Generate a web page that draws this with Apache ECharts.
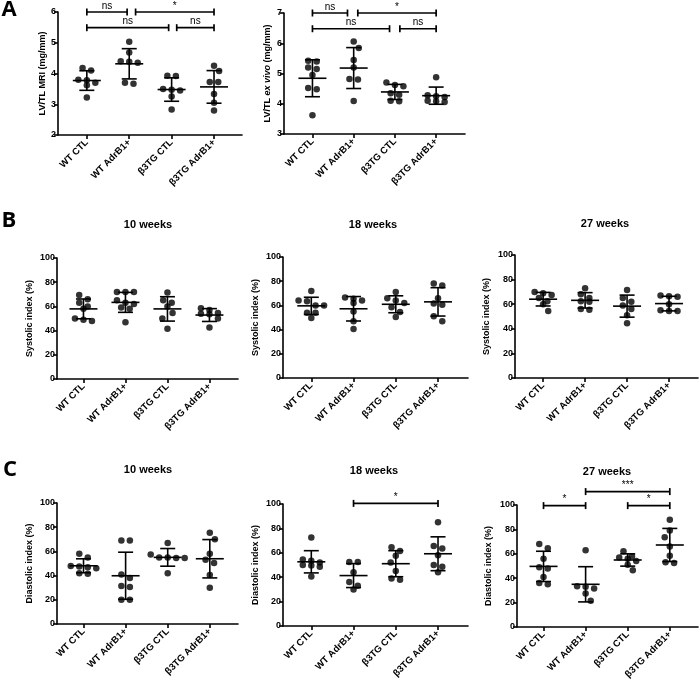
<!DOCTYPE html>
<html><head><meta charset="utf-8">
<script src="https://cdn.jsdelivr.net/npm/echarts@6/dist/echarts.min.js"></script>
<style>html,body{margin:0;padding:0;background:#fff}#c{width:700px;height:682px}</style>
</head><body><div id="c"></div>
<script>
const categories = ['WT CTL', 'WT AdrB1+', 'β3TG CTL', 'β3TG AdrB1+'];

const mriValues = [
  [4.18, 4.10, 3.80, 3.78, 3.70, 3.62, 3.22],
  [5.03, 4.68, 4.40, 4.38, 4.35, 3.70, 3.67],
  [3.93, 3.92, 3.50, 3.47, 3.45, 3.25, 2.83],
  [4.25, 4.08, 3.72, 3.72, 3.33, 3.05, 2.80]
];
const exVivoValues = [
  [5.42, 5.40, 5.20, 5.15, 4.95, 4.52, 4.48, 3.62],
  [6.06, 5.84, 5.45, 5.20, 4.82, 4.80, 4.09],
  [4.70, 4.62, 4.58, 4.35, 4.30, 4.10, 4.08],
  [4.88, 4.28, 4.25, 4.22, 4.10, 4.08, 4.06]
];
const systolic10 = [
  [69.5, 66, 63, 60, 58, 50, 49, 48],
  [72, 72, 72, 65, 63, 62, 59, 58, 47],
  [71.5, 65, 63, 60, 54.5, 50, 41.5],
  [58.5, 57, 54.5, 54, 53.5, 50, 42.5]
];
const systolic18 = [
  [72, 64, 63.5, 60, 60, 54, 54, 49.5],
  [66.5, 65.5, 64, 62, 55, 47, 40.5],
  [71, 66, 64, 62, 58.5, 54.5, 50.5],
  [78, 76.5, 66, 61.5, 60.5, 51, 47]
];
const systolic27 = [
  [70, 69, 67.5, 65, 62.5, 60, 54.5],
  [73, 68, 65, 62.5, 62, 56, 55.5],
  [71.5, 65, 62, 59, 56, 51, 44.5],
  [67, 66.5, 66, 60, 55, 54.5, 54.5]
];
const diastolic10 = [
  [58, 55, 48, 47.5, 47, 46, 42, 41.5],
  [69, 69, 41, 38, 31.5, 30.5, 20, 20],
  [67, 57.5, 55, 55, 54.5, 54.5, 42],
  [75.5, 70, 58, 53, 50.5, 40.5, 30]
];
const diastolic18 = [
  [72.5, 54.5, 53.5, 52, 50, 49.5, 48.5, 40.5],
  [52.5, 52.5, 44, 36, 33, 30],
  [64.5, 61.5, 57.5, 52, 45, 39, 38],
  [85, 65.5, 63.5, 58, 50, 48.5, 44]
];
const diastolic27 = [
  [68, 64.5, 56, 49, 48, 41, 36, 35],
  [63, 33.5, 33, 31.5, 27.5, 21.5],
  [62, 58, 57, 56, 54, 51, 46.5],
  [88, 79, 73.5, 66, 58.5, 53, 52.5]
];

// comparisons: [from category, to category, y value, label]
const mriComparisons = [[0, 0.95, 6.0, 'ns'], [1.15, 3, 6.0, '*'], [0, 1.93, 5.49, 'ns'], [2.12, 3, 5.49, 'ns']];
const exVivoComparisons = [[0, 0.85, 7.0, 'ns'], [1.1, 3, 7.0, '*'], [0, 1.87, 6.48, 'ns'], [2.12, 3, 6.48, 'ns']];
const diastolic18Comparisons = [[1, 3, 100.5, '*']];
const diastolic27Comparisons = [[0, 1, 99.5, '*'], [1, 3, 111, '***'], [2, 3, 99.5, '*']];

const mriTicks = [2, 6, 1];
const exVivoTicks = [3, 7, 1];
const indexTicks = [0, 100, 20];

const FONT = 'Liberation Sans, Arial, sans-serif';

const panels = [
  {values: mriValues, comps: mriComparisons, rect: {left: 58, top: 12, width: 184, height: 123}, xr: [-0.68, 3.66], yt: mriTicks, name: 'LV/TL MRI (mg/mm)', gap: 11},
  {values: exVivoValues, comps: exVivoComparisons, rect: {left: 284, top: 13, width: 181, height: 121}, xr: [-0.69, 3.70], yt: exVivoTicks, name: '{b|LV/TL }{i|ex vivo}{b| (mg/mm)}', gap: 12, rich: true},
  {values: systolic10, comps: [], rect: {left: 57, top: 258, width: 181, height: 121}, xr: [-0.63, 3.68], yt: indexTicks, name: 'Systolic index (%)', gap: 23},
  {values: systolic18, comps: [], rect: {left: 283, top: 257, width: 185, height: 121}, xr: [-0.67, 3.71], yt: indexTicks, name: 'Systolic index (%)', gap: 23},
  {values: systolic27, comps: [], rect: {left: 515, top: 255, width: 183, height: 123}, xr: [-0.67, 3.69], yt: indexTicks, name: 'Systolic index (%)', gap: 24},
  {values: diastolic10, comps: [], rect: {left: 57, top: 503, width: 181, height: 121}, xr: [-0.63, 3.67], yt: indexTicks, name: 'Diastolic index (%)', gap: 23},
  {values: diastolic18, comps: diastolic18Comparisons, rect: {left: 283, top: 504, width: 185, height: 122}, xr: [-0.67, 3.71], yt: indexTicks, name: 'Diastolic index (%)', gap: 23},
  {values: diastolic27, comps: diastolic27Comparisons, rect: {left: 517, top: 505, width: 181, height: 122}, xr: [-0.63, 3.67], yt: indexTicks, name: 'Diastolic index (%)', gap: 24}
];

function mean(a) { return a.reduce((s, v) => s + v, 0) / a.length; }
function sd(a) { const m = mean(a); return Math.sqrt(a.reduce((s, v) => s + (v - m) * (v - m), 0) / (a.length - 1)); }

// simple beeswarm: points close in y share a row and are spread symmetrically
function swarm(vals, pxPerY, rowPx, spacingPx) {
  const sorted = vals.slice().sort((a, b) => b - a);
  const rows = []; let cur = null;
  sorted.forEach(v => {
    if (cur && (cur.top - v) * pxPerY < rowPx) cur.items.push(v);
    else { cur = {top: v, items: [v]}; rows.push(cur); }
  });
  const out = [];
  rows.forEach((r, ri) => {
    const n = r.items.length;
    const shift = (n === 1 && ri > 0 && rows[ri - 1].items.length === 1 &&
      (rows[ri - 1].top - r.top) * pxPerY < rowPx * 1.5) ? spacingPx * 0.6 * (ri % 2 ? 1 : -1) : 0;
    r.items.forEach((v, k) => out.push({v, off: (k - (n - 1) / 2) * spacingPx + shift}));
  });
  return out;
}

const grid = [], xAxis = [], yAxis = [], series = [];
const axisLineStyle = {color: '#000', width: 1.6};

panels.forEach((p, i) => {
  grid.push(Object.assign({containLabel: false, outerBoundsMode: 'none'}, p.rect));
  const pxPerX = p.rect.width / (p.xr[1] - p.xr[0]);
  const pxPerY = p.rect.height / (p.yt[1] - p.yt[0]);
  xAxis.push({
    type: 'value', gridIndex: i, min: p.xr[0], max: p.xr[1],
    splitLine: {show: false},
    axisLine: {show: true, onZero: false, lineStyle: axisLineStyle},
    axisTick: {show: true, length: 4, customValues: [0, 1, 2, 3], lineStyle: axisLineStyle},
    axisLabel: {customValues: [0, 1, 2, 3], rotate: 45, margin: 6, fontSize: 9.5, fontWeight: 'bold', color: '#000', fontFamily: FONT,
      formatter: v => categories[Math.round(v)] || ''}
  });
  const nameStyle = {fontSize: 9, fontWeight: 'bold', color: '#000', fontFamily: FONT};
  if (p.rich) nameStyle.rich = {
    b: {fontSize: 9, fontWeight: 'bold', color: '#000', fontFamily: FONT},
    i: {fontSize: 9, fontWeight: 'bold', fontStyle: 'italic', color: '#000', fontFamily: FONT}
  };
  yAxis.push({
    type: 'value', gridIndex: i, min: p.yt[0], max: p.yt[1], interval: p.yt[2],
    splitLine: {show: false},
    axisLine: {show: true, onZero: false, lineStyle: axisLineStyle},
    axisTick: {show: true, length: 4, lineStyle: axisLineStyle},
    axisLabel: {margin: 2, fontSize: 9, fontWeight: 'bold', color: '#000', fontFamily: FONT},
    name: p.name, nameLocation: 'middle', nameGap: p.gap, nameTextStyle: nameStyle
  });
  // dots
  const dots = [];
  p.values.forEach((g, c) => {
    swarm(g, pxPerY, 5, 8.5).forEach(d => dots.push([c + d.off / pxPerX, d.v]));
  });
  series.push({type: 'scatter', xAxisIndex: i, yAxisIndex: i, data: dots, symbolSize: 6.5,
    itemStyle: {color: '#000'}, silent: true, z: 2});
  // mean +/- SD
  const stats = p.values.map((g, c) => [c, mean(g), sd(g)]);
  series.push({type: 'custom', xAxisIndex: i, yAxisIndex: i, data: stats, clip: false, z: 3,
    encode: {x: 0, y: 1},
    renderItem: (params, api) => {
      const c = api.value(0), m = api.value(1), s = api.value(2);
      const pm = api.coord([c, m]), pt = api.coord([c, m + s]), pb = api.coord([c, m - s]);
      const st = {stroke: '#000', lineWidth: 1.6};
      return {type: 'group', children: [
        {type: 'line', shape: {x1: pm[0] - 14, y1: pm[1], x2: pm[0] + 14, y2: pm[1]}, style: st},
        {type: 'line', shape: {x1: pt[0], y1: pt[1], x2: pb[0], y2: pb[1]}, style: st},
        {type: 'line', shape: {x1: pt[0] - 7.5, y1: pt[1], x2: pt[0] + 7.5, y2: pt[1]}, style: st},
        {type: 'line', shape: {x1: pb[0] - 7.5, y1: pb[1], x2: pb[0] + 7.5, y2: pb[1]}, style: st}
      ]};
    }});
  if (p.comps.length) {
    const comps = p.comps;
    series.push({type: 'custom', xAxisIndex: i, yAxisIndex: i, data: comps.map(q => [q[0], q[1], q[2]]), clip: false, z: 4,
      encode: {x: [0, 1], y: 2},
      renderItem: (params, api) => {
        const a = api.coord([api.value(0), api.value(2)]);
        const b = api.coord([api.value(1), api.value(2)]);
        const st = {stroke: '#000', lineWidth: 1.7};
        return {type: 'group', children: [
          {type: 'line', shape: {x1: a[0], y1: a[1], x2: b[0], y2: b[1]}, style: st},
          {type: 'line', shape: {x1: a[0], y1: a[1] - 3.5, x2: a[0], y2: a[1] + 3.5}, style: st},
          {type: 'line', shape: {x1: b[0], y1: b[1] - 3.5, x2: b[0], y2: b[1] + 3.5}, style: st},
          {type: 'text', style: {text: comps[params.dataIndex][3], x: (a[0] + b[0]) / 2, y: a[1] - 1,
            align: 'center', verticalAlign: 'bottom', font: '10px ' + FONT, fill: '#000'}}
        ]};
      }});
  }
});

const letterFont = 'bold 22px "Open Sans", sans-serif';
const titleFont = 'bold 11px ' + FONT;
const graphic = [
  {type: 'text', x: 9, y: 10, style: {text: 'A', font: letterFont, align: 'center', verticalAlign: 'middle', fill: '#000'}},
  {type: 'text', x: 9, y: 221, style: {text: 'B', font: letterFont, align: 'center', verticalAlign: 'middle', fill: '#000'}},
  {type: 'text', x: 10, y: 470, style: {text: 'C', font: letterFont, align: 'center', verticalAlign: 'middle', fill: '#000'}},
  {type: 'text', x: 148, y: 225, style: {text: '10 weeks', font: titleFont, align: 'center', verticalAlign: 'middle', fill: '#000'}},
  {type: 'text', x: 373, y: 225, style: {text: '18 weeks', font: titleFont, align: 'center', verticalAlign: 'middle', fill: '#000'}},
  {type: 'text', x: 605, y: 224, style: {text: '27 weeks', font: titleFont, align: 'center', verticalAlign: 'middle', fill: '#000'}},
  {type: 'text', x: 148, y: 470, style: {text: '10 weeks', font: titleFont, align: 'center', verticalAlign: 'middle', fill: '#000'}},
  {type: 'text', x: 374, y: 471, style: {text: '18 weeks', font: titleFont, align: 'center', verticalAlign: 'middle', fill: '#000'}},
  {type: 'text', x: 607, y: 472, style: {text: '27 weeks', font: titleFont, align: 'center', verticalAlign: 'middle', fill: '#000'}}
];

const chart = echarts.init(document.getElementById('c'), null, {renderer: 'canvas'});
chart.setOption({animation: false, backgroundColor: '#fff', grid, xAxis, yAxis, series, graphic});
</script>
</body></html>
